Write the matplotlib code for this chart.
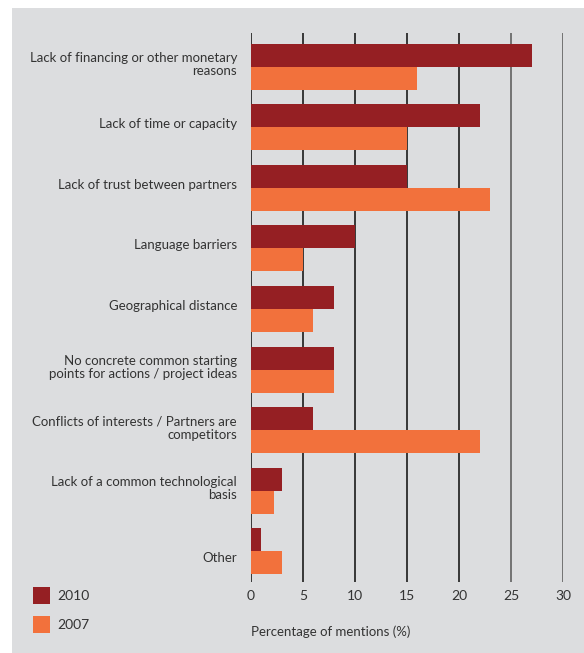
import matplotlib.pyplot as plt
import matplotlib.patches as mpatches
import matplotlib.transforms as mtransforms
import numpy as np

plt.rcParams["font.family"] = ["Lato", "DejaVu Sans"]

# ----------------------------------------------------------------------------
# data
# ----------------------------------------------------------------------------
categories = [
    "Lack of financing or other monetary\nreasons",
    "Lack of time or capacity",
    "Lack of trust between partners",
    "Language barriers",
    "Geographical distance",
    "No concrete common starting\npoints for actions / project ideas",
    "Conflicts of interests / Partners are\ncompetitors",
    "Lack of a common technological\nbasis",
    "Other",
]
values_2010 = [27, 22, 15, 10, 8, 8, 6, 3, 1]
values_2007 = [16, 15, 23, 5, 6, 8, 22, 2.2, 3]
xticks = [0, 5, 10, 15, 20, 25, 30]

# ----------------------------------------------------------------------------
# style
# ----------------------------------------------------------------------------
C_2010 = "#951f23"
C_2007 = "#f2713c"
BG = "#dcdddf"
TXT = "#333333"
W, H = 584, 653
BAR_H = 0.38

fig = plt.figure(figsize=(W / 100, H / 100), dpi=100)
fig.patch.set_facecolor("white")

# grey panel behind everything
fig.patches.append(mpatches.Rectangle((12 / W, 0), 1 - 12 / W, (H - 8) / H,
                                      transform=fig.transFigure,
                                      facecolor=BG, edgecolor="none", zorder=-10))

ax_left, ax_right = 251, 563
ax_top, ax_bottom = 33, 582
ax = fig.add_axes([ax_left / W, 1 - ax_bottom / H,
                   (ax_right - ax_left) / W, (ax_bottom - ax_top) / H])
ax.set_facecolor("none")

y = np.arange(len(categories))
ax.barh(y - BAR_H / 2, values_2010, height=BAR_H, color=C_2010, zorder=3)
ax.barh(y + BAR_H / 2, values_2007, height=BAR_H, color=C_2007, zorder=3)

ax.set_xlim(0, 30)
ax.set_ylim(8.51, -0.56)

for t in xticks:
    shade = "#2a2a2a" if t <= 20 else "#6a6a6a"
    ax.axvline(t, color=shade, linewidth=1.3, zorder=1)

for s in ax.spines.values():
    s.set_visible(False)

ax.set_xticks(xticks)
ax.set_xticklabels([str(t) for t in xticks], fontsize=10, color=TXT)
ax.tick_params(axis="x", length=0, pad=6)

ax.set_yticks(y)
ax.set_yticklabels(categories, fontsize=9.5, color=TXT, linespacing=1.15)
ax.tick_params(axis="y", length=0, pad=10)

# labels in the original sit a little above the group centre ("Other" below)
for i, lab in enumerate(ax.get_yticklabels()):
    dy = 6 if i == len(categories) - 1 else -4
    off = mtransforms.ScaledTranslation(0, -dy / 100, fig.dpi_scale_trans)
    lab.set_transform(lab.get_transform() + off)

fig.text(251 / W, 1 - 632 / H, "Percentage of mentions (%)", fontsize=9.5,
         color=TXT, ha="left", va="center")

# legend
for yy, col, lab in [(596, C_2010, "2010"), (625, C_2007, "2007")]:
    fig.patches.append(mpatches.Rectangle((33 / W, 1 - (yy + 8) / H), 17 / W, 17 / H,
                                          transform=fig.transFigure,
                                          facecolor=col, edgecolor="none"))
    fig.text(57 / W, 1 - yy / H, lab, fontsize=10, color=TXT,
             ha="left", va="center")

fig.savefig("out.png", dpi=100)
